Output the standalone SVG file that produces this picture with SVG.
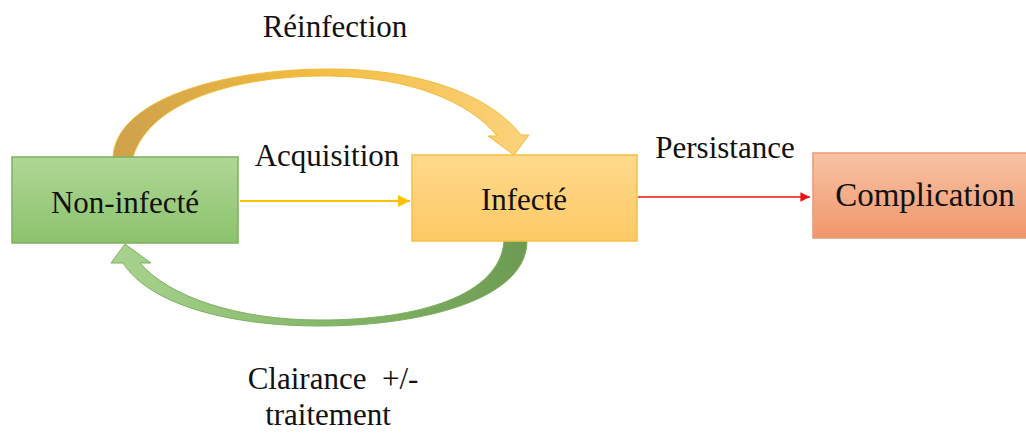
<svg xmlns="http://www.w3.org/2000/svg" width="1026" height="434" viewBox="0 0 1026 434">
<defs>
<linearGradient id="gGreen" x1="0" y1="0" x2="0" y2="1"><stop offset="0" stop-color="#afd796"/><stop offset="1" stop-color="#8cc26c"/></linearGradient>
<linearGradient id="gYellow" x1="0" y1="0" x2="0" y2="1"><stop offset="0" stop-color="#ffd98c"/><stop offset="1" stop-color="#fdc965"/></linearGradient>
<linearGradient id="gOrange" x1="0" y1="0" x2="0" y2="1"><stop offset="0" stop-color="#f8c3a5"/><stop offset="1" stop-color="#f0966b"/></linearGradient>
<linearGradient id="gTop" x1="110" y1="0" x2="530" y2="0" gradientUnits="userSpaceOnUse"><stop offset="0" stop-color="#cda04c"/><stop offset="0.45" stop-color="#f0bb3e"/><stop offset="1" stop-color="#fcd27c"/></linearGradient>
<linearGradient id="gBot" x1="530" y1="0" x2="110" y2="0" gradientUnits="userSpaceOnUse"><stop offset="0" stop-color="#6c9a52"/><stop offset="0.5" stop-color="#86b869"/><stop offset="1" stop-color="#a9d38f"/></linearGradient>
<marker id="mY" viewBox="0 0 10 10" refX="10" refY="5" markerWidth="6" markerHeight="6" orient="auto" markerUnits="strokeWidth"><path d="M0,0 L10,5 L0,10 Z" fill="#ffc000"/></marker>
<marker id="mR" viewBox="0 0 10 10" refX="10" refY="5" markerWidth="6" markerHeight="6" orient="auto" markerUnits="strokeWidth"><path d="M0,0 L10,5 L0,10 Z" fill="#ee1111"/></marker>
</defs>
<rect width="1026" height="434" fill="#ffffff"/>
<g id="connectors">
<path id="reinfection-arrow" d="M113,157 C116,100 220,69 330,69 C420,69 490,95 521,135 L529,135 L514,155 L488,136 L497,136 C470,102 410,77 330,76 C240,75 150,100 133,157 Z" fill="url(#gTop)" stroke="#f2bb3a" stroke-width="1"/>
<path id="clairance-arrow" d="M504,241 L527,241 C527,300 420,326 320,326 C230,326 150,305 123,263 L111,263 L125,244 L151,263 L140,263 C170,298 240,320 320,320 C420,320 500,295 504,241 Z" fill="url(#gBot)" stroke="#7fae62" stroke-width="1"/>
<line x1="240" y1="201" x2="410" y2="201" stroke="#ffc000" stroke-width="2" marker-end="url(#mY)"/>
<line x1="638" y1="197" x2="810" y2="197" stroke="#ee1111" stroke-width="1.6" marker-end="url(#mR)"/>
</g>
<g id="labels">
<text x="335" y="37" font-family="Liberation Serif" style="font-family:'Liberation Serif',serif;font-size:31px;fill:#111;text-anchor:middle">Réinfection</text>
<text x="327" y="166" font-family="Liberation Serif" style="font-family:'Liberation Serif',serif;font-size:31px;fill:#111;text-anchor:middle">Acquisition</text>
<text x="725" y="158" font-family="Liberation Serif" style="font-family:'Liberation Serif',serif;font-size:31px;fill:#111;text-anchor:middle">Persistance</text>
<text x="333" y="389" xml:space="preserve" font-family="Liberation Serif" style="font-family:'Liberation Serif',serif;font-size:31px;fill:#111;text-anchor:middle">Clairance  +/-</text>
<text x="328" y="425" font-family="Liberation Serif" style="font-family:'Liberation Serif',serif;font-size:31px;fill:#111;text-anchor:middle">traitement</text>
</g>
<g id="node-non-infecte">
<rect x="12" y="157" width="226" height="86" fill="url(#gGreen)" stroke="#7fb05e" stroke-width="1.5"/>
<text x="125" y="213" font-family="Liberation Serif" style="font-family:'Liberation Serif',serif;font-size:31px;fill:#111;text-anchor:middle">Non-infecté</text>
</g>
<g id="node-infecte">
<rect x="412" y="155" width="225" height="86" fill="url(#gYellow)" stroke="#f6c043" stroke-width="1.5"/>
<text x="524" y="210" font-family="Liberation Serif" style="font-family:'Liberation Serif',serif;font-size:31px;fill:#111;text-anchor:middle">Infecté</text>
</g>
<g id="node-complication">
<rect x="813" y="153" width="220" height="85" fill="url(#gOrange)" stroke="#e89a76" stroke-width="1.5"/>
<text x="925" y="206" font-family="Liberation Serif" style="font-family:'Liberation Serif',serif;font-size:33px;fill:#111;text-anchor:middle">Complication</text>
</g>
</svg>
